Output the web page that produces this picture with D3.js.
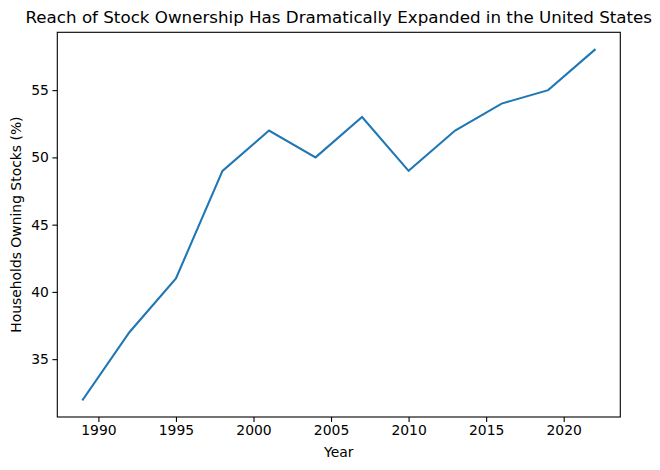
<!DOCTYPE html>
<html>
<head>
<meta charset="utf-8">
<script src="https://cdn.jsdelivr.net/npm/d3@7"></script>
<style>
  body { margin: 0; background: #fff; }
  text { font-family: "DejaVu Sans", sans-serif; fill: #000; }
</style>
</head>
<body>
<script>
const years = [1989, 1992, 1995, 1998, 2001, 2004, 2007, 2010, 2013, 2016, 2019, 2022];
const ownership = [32, 37, 41, 49, 52, 50, 53, 49, 52, 54, 55, 58];
const xTicks = [1990, 1995, 2000, 2005, 2010, 2015, 2020];
const yTicks = [35, 40, 45, 50, 55];

const W = 660, H = 470;
const m = { left: 57.3, right: 620.3, top: 32.3, bottom: 417 };

const svg = d3.select('body').append('svg').attr('width', W).attr('height', H);

// matplotlib style 5% margins
const xPad = (d3.max(years) - d3.min(years)) * 0.05;
const yPad = (d3.max(ownership) - d3.min(ownership)) * 0.05;
const x = d3.scaleLinear().domain([d3.min(years) - xPad, d3.max(years) + xPad]).range([m.left, m.right]);
const y = d3.scaleLinear().domain([d3.min(ownership) - yPad, d3.max(ownership) + yPad]).range([m.bottom, m.top]);

const data = years.map((yr, i) => ({ yr, v: ownership[i] }));

svg.append('path')
    .datum(data)
    .attr('fill', 'none')
    .attr('stroke', '#1f77b4')
    .attr('stroke-width', 2.08)
    .attr('stroke-linecap', 'square')
    .attr('d', d3.line().x(d => x(d.yr)).y(d => y(d.v)));

const xAxis = svg.append('g')
    .attr('transform', `translate(0,${m.bottom})`)
    .call(d3.axisBottom(x).tickValues(xTicks).tickFormat(d3.format('d')).tickSize(4.9).tickPadding(3.5));
const yAxis = svg.append('g')
    .attr('transform', `translate(${m.left},0)`)
    .call(d3.axisLeft(y).tickValues(yTicks).tickSize(4.9).tickPadding(3.5));

[xAxis, yAxis].forEach(g => {
    g.select('.domain').remove();
    g.selectAll('.tick line').attr('stroke', '#000').attr('stroke-width', 1.1);
    g.selectAll('.tick text').style('font-size', '13.9px').style('font-family', '"DejaVu Sans", sans-serif');
});

// frame
svg.append('rect')
    .attr('x', m.left).attr('y', m.top)
    .attr('width', m.right - m.left).attr('height', m.bottom - m.top)
    .attr('fill', 'none').attr('stroke', '#000').attr('stroke-width', 1.1);

svg.append('text')
    .attr('x', (m.left + m.right) / 2).attr('y', 23)
    .attr('text-anchor', 'middle')
    .style('font-size', '16.7px')
    .text('Reach of Stock Ownership Has Dramatically Expanded in the United States');

svg.append('text')
    .attr('x', (m.left + m.right) / 2).attr('y', 457)
    .attr('text-anchor', 'middle')
    .style('font-size', '13.9px')
    .text('Year');

svg.append('text')
    .attr('transform', `translate(21,${(m.top + m.bottom) / 2}) rotate(-90)`)
    .attr('text-anchor', 'middle')
    .style('font-size', '13.9px')
    .text('Households Owning Stocks (%)');
</script>
</body>
</html>
